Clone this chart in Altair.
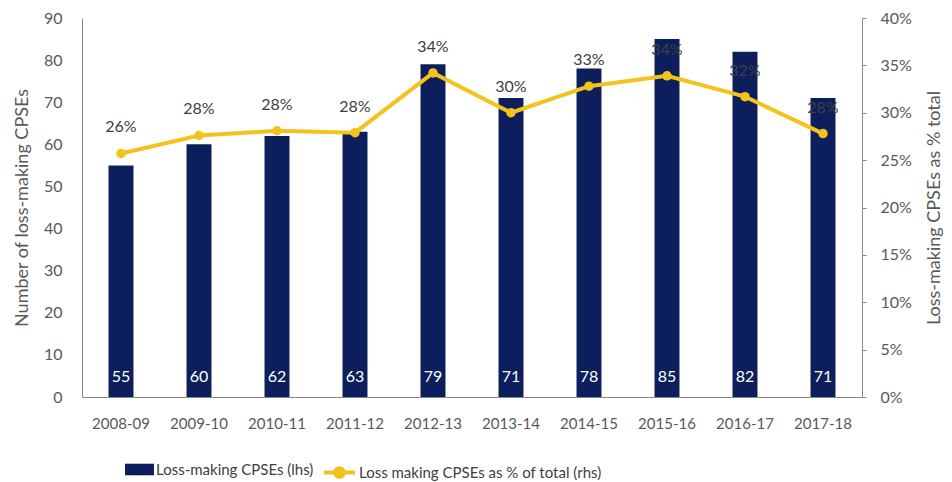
import altair as alt
import pandas as pd

years = ["2008-09", "2009-10", "2010-11", "2011-12", "2012-13",
         "2013-14", "2014-15", "2015-16", "2016-17", "2017-18"]
counts = [55, 60, 62, 63, 79, 71, 78, 85, 82, 71]
pct = [0.257, 0.276, 0.281, 0.279, 0.342, 0.300, 0.328, 0.339, 0.317, 0.278]
bar_name = "Loss-making CPSEs (lhs)"
line_name = "Loss making CPSEs as % of total (rhs)"

NAVY = "#0c1f5c"
GOLD = "#f3c31c"
TXT = "#595959"
FONT = "Lato"

df = pd.DataFrame({"year": years, "count": counts, "pct": pct,
                   "s1": bar_name, "s2": line_name})

x_axis = alt.Axis(title=None, labelAngle=0, ticks=False, domainColor="#888888",
                  labelFontSize=15, labelColor=TXT, labelFont=FONT, labelPadding=19)
x_scale = alt.Scale(paddingInner=0.68, paddingOuter=0.34)
x_enc = alt.X("year:N", sort=years, scale=x_scale, axis=x_axis, title=None)

left_axis = alt.Axis(title="Number of loss-making CPSEs", values=list(range(0, 91, 10)),
                     grid=False, ticks=False, domainColor="#888888",
                     labelFontSize=16, labelColor=TXT, labelFont=FONT, labelPadding=20,
                     titleFontSize=18, titleColor=TXT, titleFont=FONT, titleFontWeight="normal",
                     titlePadding=12)
left_scale = alt.Scale(domain=[0, 90])

right_axis = alt.Axis(title="Loss-making CPSEs as % total", orient="right",
                      values=[0, 0.05, 0.1, 0.15, 0.2, 0.25, 0.3, 0.35, 0.4], format=".0%",
                      grid=False, ticks=True, tickSize=4, tickColor="#888888",
                      domainColor="#888888",
                      labelFontSize=16, labelColor=TXT, labelFont=FONT, labelPadding=14,
                      titleFontSize=18, titleColor=TXT, titleFont=FONT, titleFontWeight="normal",
                      titleAngle=270, titlePadding=32)
right_scale = alt.Scale(domain=[0, 0.4])
y_right = alt.Y("pct:Q", scale=right_scale, axis=right_axis, title="Loss-making CPSEs as % total")

base = alt.Chart(df)

bars = base.mark_bar(color=NAVY).encode(
    x=x_enc,
    y=alt.Y("count:Q", scale=left_scale, axis=left_axis, title="Number of loss-making CPSEs"),
    fill=alt.Fill("s1:N", scale=alt.Scale(range=[NAVY]),
                  legend=alt.Legend(orient="none", legendX=43, legendY=437, title=None,
                                    symbolType="M-1,-0.4H1V0.4H-1Z", symbolSize=841,
                                    symbolStrokeWidth=0, labelFontSize=15, labelColor="#404040",
                                    labelFont=FONT, labelOffset=2, padding=0, labelLimit=400)),
)

bar_text = base.mark_text(color="white", fontSize=16, font=FONT, baseline="middle", dy=-20).encode(
    x=x_enc,
    y=alt.YDatum(0, scale=left_scale, axis=left_axis, title="Number of loss-making CPSEs"),
    text=alt.Text("count:Q"),
)

left = alt.layer(bars, bar_text)

line = base.mark_line(strokeWidth=4).encode(
    x=x_enc,
    y=y_right,
    stroke=alt.Stroke("s2:N", scale=alt.Scale(range=[GOLD]),
                      legend=alt.Legend(orient="none", legendX=240, legendY=437, title=None,
                                        symbolType="M-1,0H1M0.28,0A0.28,0.28 0 1,1 -0.28,0A0.28,0.28 0 1,1 0.28,0Z",
                                        symbolSize=961, symbolStrokeWidth=4, symbolFillColor=GOLD,
                                        labelFontSize=15, labelColor="#404040",
                                        labelFont=FONT, labelOffset=2, padding=0, labelLimit=400)),
)

pts = base.mark_circle(size=90, opacity=1, color=GOLD).encode(
    x=x_enc,
    y=y_right,
)

pct_text = base.mark_text(color="#404040", fontSize=16, font=FONT, baseline="middle", dy=-26).encode(
    x=x_enc,
    y=y_right,
    text=alt.Text("pct:Q", format=".0%"),
)

right = alt.layer(line, pts, pct_text)

chart = alt.layer(left, right).resolve_scale(y="independent", fill="independent", stroke="independent").properties(
    width=780, height=379,
    padding={"left": 82, "top": 18, "right": 90, "bottom": 85},
    autosize=alt.AutoSizeParams(type="none"),
    background="white",
).configure_view(stroke=None)

chart.save("out.html", embed_options={"renderer": "svg", "actions": False})
